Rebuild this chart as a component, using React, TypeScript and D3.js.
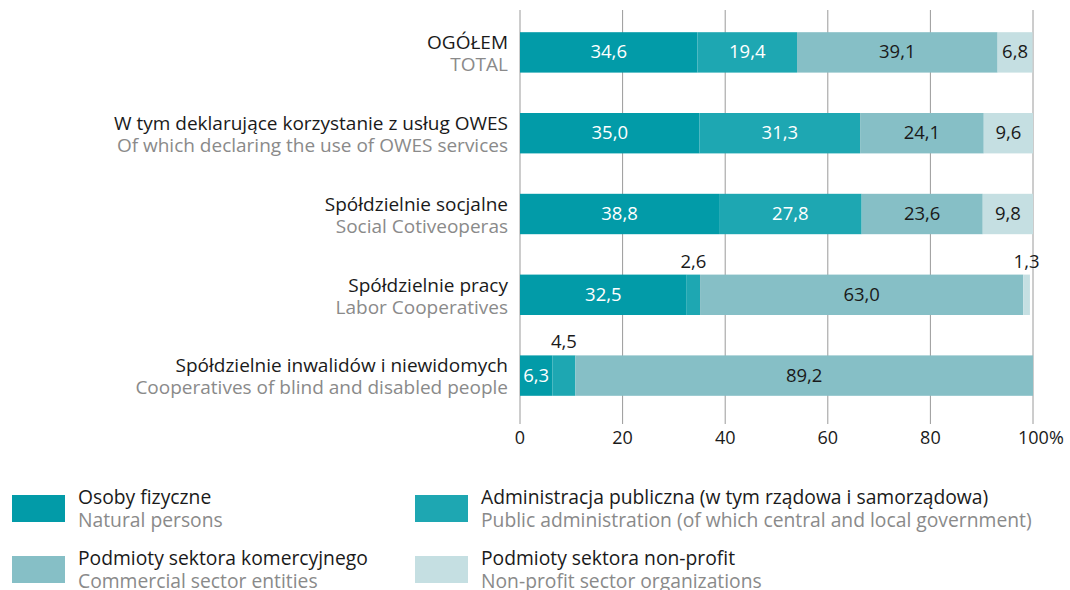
import React, { useEffect, useRef } from "react";
import * as d3 from "d3";

const categoriesPl = [
  "OGÓŁEM",
  "W tym deklarujące korzystanie z usług OWES",
  "Spółdzielnie socjalne",
  "Spółdzielnie pracy",
  "Spółdzielnie inwalidów i niewidomych",
];
const categoriesEn = [
  "TOTAL",
  "Of which declaring the use of OWES services",
  "Social Cotiveoperas",
  "Labor Cooperatives",
  "Cooperatives of blind and disabled people",
];
const seriesPl = [
  "Osoby fizyczne",
  "Administracja publiczna (w tym rządowa i samorządowa)",
  "Podmioty sektora komercyjnego",
  "Podmioty sektora non-profit",
];
const seriesEn = [
  "Natural persons",
  "Public administration (of which central and local government)",
  "Commercial sector entities",
  "Non-profit sector organizations",
];
const naturalPersons = [34.6, 35.0, 38.8, 32.5, 6.3];
const publicAdmin = [19.4, 31.3, 27.8, 2.6, 4.5];
const commercial = [39.1, 24.1, 23.6, 63.0, 89.2];
const nonProfit = [6.8, 9.6, 9.8, 1.3, 0];
const xTicks = [0, 20, 40, 60, 80, 100];

const colors = ["#029ba8", "#1ea7b2", "#86bfc6", "#c5dfe2"];
const labelColors = ["#ffffff", "#ffffff", "#1a1a1a", "#1a1a1a"];
const FONT = "'Open Sans', sans-serif";

export default function App() {
  const ref = useRef<SVGSVGElement>(null);
  const width = 1070;
  const height = 590;

  useEffect(() => {
    const svg = d3.select(ref.current);
    svg.selectAll("*").remove();

    const series = [naturalPersons, publicAdmin, commercial, nonProfit];
    const rows = categoriesPl.map((c, i) => ({
      key: c,
      values: series.map((s) => s[i]),
    }));

    const x = d3.scaleLinear().domain([0, 100]).range([520, 1033]);
    const y = d3
      .scaleBand()
      .domain(categoriesPl)
      .range([12, 416])
      .paddingInner(0.5)
      .paddingOuter(0.25);

    // grid + axis
    const grid = svg.append("g");
    grid
      .selectAll("line")
      .data(xTicks)
      .join("line")
      .attr("x1", (d) => x(d))
      .attr("x2", (d) => x(d))
      .attr("y1", 10)
      .attr("y2", 424)
      .attr("stroke", "#9a9a9a")
      .attr("stroke-width", 1);
    grid
      .selectAll("text")
      .data(xTicks)
      .join("text")
      .attr("x", (d) => x(d))
      .attr("y", 444)
      .attr("text-anchor", (d) => (d === 100 ? "start" : "middle"))
      .attr("dx", (d) => (d === 100 ? -15 : 0))
      .attr("font-family", FONT)
      .attr("font-size", 18)
      .attr("fill", "#1a1a1a")
      .text((d) => (d === 100 ? "100%" : String(d)));

    const fmt = (v: number) => v.toFixed(1).replace(".", ",");

    rows.forEach((row, ri) => {
      const g = svg.append("g");
      const y0 = y(row.key) as number;
      const bh = y.bandwidth();
      let acc = 0;
      row.values.forEach((v, si) => {
        const start = acc;
        acc += v;
        if (v <= 0) return;
        g.append("rect")
          .attr("x", x(start))
          .attr("y", y0)
          .attr("width", x(acc) - x(start))
          .attr("height", bh)
          .attr("fill", colors[si]);
        const cx = (x(start) + x(acc)) / 2;
        const outside = v < 4 || (ri === 4 && si === 1);
        g.append("text")
          .attr("x", cx)
          .attr("y", outside ? y0 - 7 : y0 + bh / 2 + 6)
          .attr("text-anchor", "middle")
          .attr("font-family", FONT)
          .attr("font-size", 18.5)
          .attr("fill", outside ? "#1a1a1a" : labelColors[si])
          .text(fmt(v));
      });
      g.append("text")
        .attr("x", 508)
        .attr("y", y0 + 17)
        .attr("text-anchor", "end")
        .attr("font-family", FONT)
        .attr("font-size", 19)
        .attr("fill", "#1a1a1a")
        .text(categoriesPl[ri]);
      g.append("text")
        .attr("x", 508)
        .attr("y", y0 + 39)
        .attr("text-anchor", "end")
        .attr("font-family", FONT)
        .attr("font-size", 19)
        .attr("fill", "#8a8a8a")
        .text(categoriesEn[ri]);
    });

    // legend
    const legendPos = [
      [12, 495],
      [415, 495],
      [12, 556],
      [415, 556],
    ];
    const lg = svg.append("g");
    seriesPl.forEach((s, i) => {
      const [lx, ly] = legendPos[i];
      lg.append("rect")
        .attr("x", lx)
        .attr("y", ly)
        .attr("width", 53)
        .attr("height", 27)
        .attr("fill", colors[i]);
      lg.append("text")
        .attr("x", lx + 66)
        .attr("y", ly + 9)
        .attr("font-family", FONT)
        .attr("font-size", 19.3)
        .attr("fill", "#1a1a1a")
        .text(s);
      lg.append("text")
        .attr("x", lx + 66)
        .attr("y", ly + 32)
        .attr("font-family", FONT)
        .attr("font-size", 19.3)
        .attr("fill", "#8a8a8a")
        .text(seriesEn[i]);
    });
  }, []);

  return (
    <svg
      ref={ref}
      width={width}
      height={height}
      style={{ position: "absolute", left: 0, top: 0, background: "#fff" }}
    ></svg>
  );
}
